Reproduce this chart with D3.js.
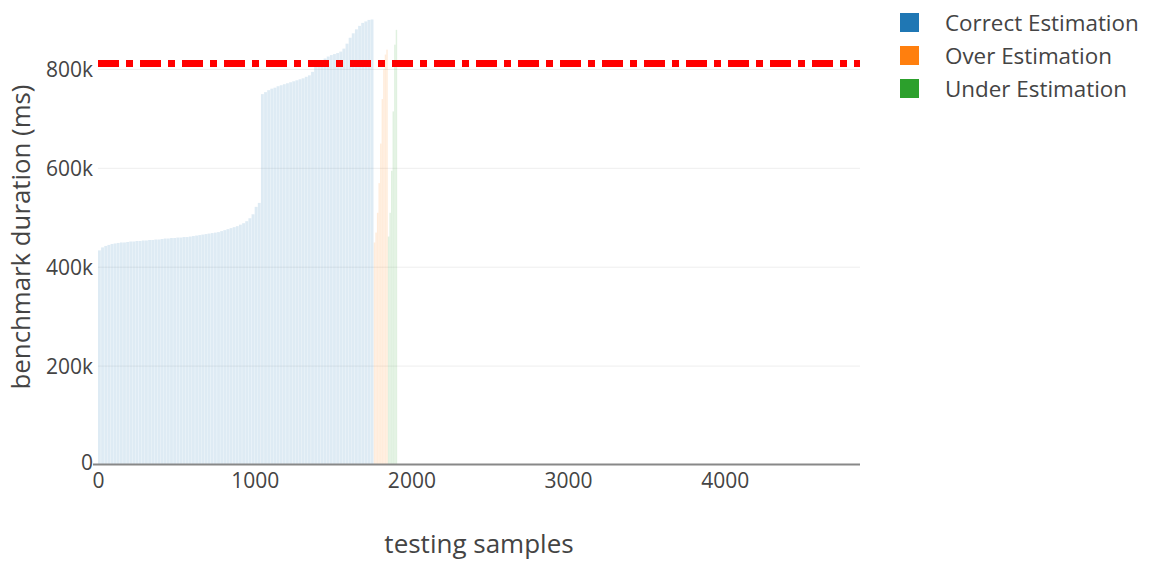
<!DOCTYPE html>
<html>
<head>
<meta charset="utf-8">
<script src="https://cdn.jsdelivr.net/npm/d3@7"></script>
<style>
  html, body { margin: 0; padding: 0; background: #fff; }
  svg { display: block; font-family: "Open Sans", sans-serif; }
</style>
</head>
<body>
<svg id="chart" width="1149" height="561"></svg>
<script>
// Benchmark durations (ms) of the testing samples, sorted within each group.
// Each value is one bar covering `bin` consecutive samples starting at `start`.
const seriesNames = ["Correct Estimation", "Over Estimation", "Under Estimation"];
const seriesColors = ["#1f77b4", "#ff7f0e", "#2ca02c"];

const correctStart = 0, correctBin = 20;
const correctValues = [
  434000, 440000, 443000, 445000, 447000, 448000, 449000, 450000, 450000, 451000,
  452000, 452000, 453000, 453000, 454000, 454000, 455000, 455000, 456000, 456000,
  457000, 458000, 458000, 459000, 459000, 460000, 460000, 461000, 461000, 462000,
  463000, 464000, 465000, 466000, 467000, 468000, 469000, 470000, 471000, 473000,
  475000, 477000, 479000, 481000, 483000, 486000, 489000, 493000, 499000, 507000,
  522000, 530000, 750000, 754000, 758000, 761000, 763000, 766000, 768000, 770000,
  772000, 774000, 776000, 778000, 780000, 782000, 785000, 788000, 795000, 805000,
  813000, 818000, 822000, 826000, 829000, 831000, 833000, 836000, 842000, 852000,
  864000, 873000, 881000, 888000, 894000, 897000, 900000, 901000
];

const overStart = 1760, overBin = 10;
const overValues = [450000, 470000, 510000, 570000, 650000, 740000, 800000, 830000, 840000];

const underStart = 1850, underBin = 10;
const underValues = [462000, 510000, 595000, 715000, 850000, 880000];

const thresholdValue = 812000;

const xTicks = [0, 1000, 2000, 3000, 4000];
const yTicks = [0, 200000, 400000, 600000, 800000];
const xTitle = "testing samples";
const yTitle = "benchmark duration (ms)";

// Layout
const svg = d3.select("#chart");
const plot = { left: 98, right: 860, top: 0, bottom: 465 };
const x = d3.scaleLinear().domain([0, 4863]).range([plot.left, plot.right]);
const y = d3.scaleLinear().domain([0, 800000]).range([plot.bottom, 69.4]);
const textColor = "#444";

// Horizontal gridlines
svg.append("g")
  .selectAll("line")
  .data(yTicks.filter(d => d > 0))
  .join("line")
  .attr("x1", plot.left).attr("x2", plot.right)
  .attr("y1", d => y(d)).attr("y2", d => y(d))
  .attr("stroke", "#eee").attr("stroke-width", 1);

// Bars
const groups = [
  { start: correctStart, bin: correctBin, values: correctValues, color: seriesColors[0], gap: 0.3 },
  { start: overStart, bin: overBin, values: overValues, color: seriesColors[1], gap: 0.15 },
  { start: underStart, bin: underBin, values: underValues, color: seriesColors[2], gap: 0.15 }
];
const barLayer = svg.append("g");
groups.forEach(g => {
  barLayer.append("g")
    .selectAll("rect")
    .data(g.values.map((v, i) => ({ s0: g.start + i * g.bin, s1: g.start + (i + 1) * g.bin, v })))
    .join("rect")
    .attr("x", d => x(d.s0))
    .attr("width", d => Math.max(0.2, x(d.s1) - x(d.s0) - g.gap))
    .attr("y", d => y(d.v))
    .attr("height", d => y(0) - y(d.v))
    .attr("fill", g.color)
    .attr("fill-opacity", 0.15);
});

// Zero line / x axis line
svg.append("line")
  .attr("x1", 93).attr("x2", plot.right)
  .attr("y1", y(0) - 0.5).attr("y2", y(0) - 0.5)
  .attr("stroke", "#888").attr("stroke-width", 2);

// Threshold line (dash-dot)
svg.append("line")
  .attr("x1", plot.left).attr("x2", plot.right)
  .attr("y1", y(thresholdValue)).attr("y2", y(thresholdValue))
  .attr("stroke", "#ff0000").attr("stroke-width", 7)
  .attr("stroke-dasharray", "21,7,7,7");

// X tick labels
const xAxis = d3.axisBottom(x).tickValues(xTicks).tickSize(0).tickPadding(0).tickFormat(d3.format("d"));
const gx = svg.append("g").attr("transform", `translate(0,${y(0)})`).call(xAxis);
gx.select(".domain").remove();
gx.selectAll("text")
  .attr("dy", null).attr("y", 23)
  .attr("fill", textColor).attr("font-size", 21)
  .attr("font-family", "'Open Sans', sans-serif");

// Y tick labels
const fmtY = d => d === 0 ? "0" : d3.format("~s")(d);
const yAxis = d3.axisLeft(y).tickValues(yTicks).tickSize(0).tickPadding(0).tickFormat(fmtY);
const gy = svg.append("g").attr("transform", `translate(93,0)`).call(yAxis);
gy.select(".domain").remove();
gy.selectAll("text")
  .attr("x", 0).attr("dy", "0.35em")
  .attr("fill", textColor).attr("font-size", 21)
  .attr("font-family", "'Open Sans', sans-serif");
gy.selectAll(".tick").filter(d => d === 0).select("text").attr("dy", "0.2em");

// Axis titles
svg.append("text")
  .attr("x", (plot.left + plot.right) / 2).attr("y", 553)
  .attr("text-anchor", "middle")
  .attr("fill", textColor).attr("font-size", 26)
  .text(xTitle);
svg.append("text")
  .attr("transform", `translate(30,${237}) rotate(-90)`)
  .attr("text-anchor", "middle")
  .attr("fill", textColor).attr("font-size", 25.8)
  .text(yTitle);

// Legend
const legend = svg.append("g").attr("transform", "translate(900,13)");
const items = legend.selectAll("g")
  .data(seriesNames)
  .join("g")
  .attr("transform", (d, i) => `translate(0,${i * 33})`);
items.append("rect")
  .attr("width", 19).attr("height", 19)
  .attr("fill", (d, i) => seriesColors[i]);
items.append("text")
  .attr("x", 45).attr("y", 10).attr("dy", "0.35em")
  .attr("fill", textColor).attr("font-size", 22.4)
  .text(d => d);
</script>
</body>
</html>
